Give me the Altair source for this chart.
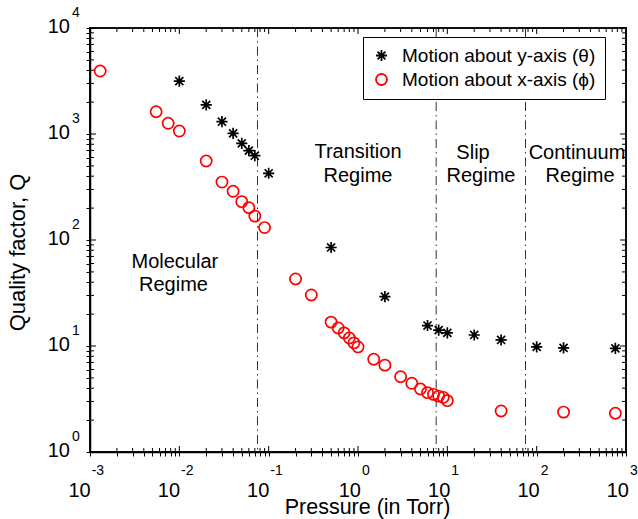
import altair as alt
import pandas as pd

# ---------------- data ----------------
theta_p = [0.01, 0.02, 0.03, 0.04, 0.05, 0.06, 0.07, 0.1, 0.5, 2, 6, 8, 10, 20, 40, 100, 200, 760]
theta_q = [3150, 1880, 1306, 1015, 817, 696, 624, 426, 85, 29.2, 15.6, 14.1, 13.3, 12.7, 11.4, 9.8, 9.6, 9.5]

phi_p = [0.0013, 0.0055, 0.0075, 0.01, 0.02, 0.03, 0.04, 0.05, 0.06, 0.07, 0.09, 0.2, 0.3,
         0.5, 0.6, 0.7, 0.8, 0.9, 1.0, 1.5, 2, 3, 4, 5, 6, 7, 8, 9, 10, 40, 200, 760]
phi_q = [3925, 1622, 1262, 1066, 556, 352, 288, 230, 202, 168, 131, 42.9, 30.3,
         16.8, 14.8, 13.3, 11.9, 10.7, 9.8, 7.5, 6.6, 5.13, 4.45, 3.93, 3.63, 3.50, 3.37, 3.28, 3.05, 2.44, 2.38, 2.32]

regime_bounds = [0.075, 7.5, 75]

x_exps = [-3, -2, -1, 0, 1, 2, 3]
y_exps = [0, 1, 2, 3, 4]

ann_text = ["Molecular", "Regime", "Transition", "Regime", "Slip", "Regime", "Continuum", "Regime"]
ann_x = [0.0089, 0.0086, 1.0, 1.0, 19.4, 23.8, 283, 306]
ann_y = [61.9, 37.6, 676, 402, 662, 402, 662, 402]

lab_theta = "Motion about y-axis (θ)"
lab_phi = "Motion about x-axis (ϕ)"

# ---------------- styling ----------------
FONT = "Liberation Sans"
W, H = 536, 424
xs = alt.Scale(type="log", domain=[1e-3, 1e3], nice=False)
ys = alt.Scale(type="log", domain=[1, 1e4], nice=False)
ASTER = "M-1,0L1,0M0,-1L0,1M-0.72,-0.72L0.72,0.72M-0.72,0.72L0.72,-0.72"

major_x = [10.0 ** e for e in x_exps]
minor_x = [m * 10.0 ** e for e in x_exps[:-1] for m in range(2, 10)]
major_y = [10.0 ** e for e in y_exps]
minor_y = [m * 10.0 ** e for e in y_exps[:-1] for m in range(2, 10)]

AX_X = alt.Axis(title="Pressure (in Torr)", labels=False, ticks=True, domain=True, grid=False,
                values=major_x + minor_x, tickSize=4, tickColor="black", tickWidth=1,
                domainColor="black", domainWidth=1.5,
                titleFont=FONT, titleFontSize=21.5, titleFontWeight="normal", titleColor="black",
                titlePadding=40, titleX=277)
AX_Y = alt.Axis(title="Quality factor, Q", labels=False, ticks=True, domain=True, grid=False,
                values=major_y + minor_y, tickSize=4, tickColor="black", tickWidth=1,
                domainColor="black", domainWidth=1.5,
                titleFont=FONT, titleFontSize=22, titleFontWeight="normal", titleColor="black",
                titlePadding=56, titleY=224)


def X(f):
    return alt.X(f, scale=xs, axis=AX_X)


def Y(f):
    return alt.Y(f, scale=ys, axis=AX_Y)


pts = pd.DataFrame({
    "p": theta_p + phi_p,
    "q": theta_q + phi_q,
    "s": [lab_theta] * len(theta_p) + [lab_phi] * len(phi_p),
})
dom = [lab_theta, lab_phi]

leg = alt.Legend(
    title=None, orient="none", legendX=273, legendY=9,
    strokeColor="black", fillColor="white", padding=9, cornerRadius=0,
    labelFont=FONT, labelFontSize=19, labelColor="black", labelOffset=11, labelLimit=400,
    rowPadding=4, symbolSize=120, symbolStrokeWidth=1.8,
)

points = alt.Chart(pts).mark_point(filled=False, size=125, strokeWidth=1.7, opacity=1).encode(
    x=X("p:Q"), y=Y("q:Q"),
    color=alt.Color("s:N", scale=alt.Scale(domain=dom, range=["black", "#ff0000"]), legend=leg),
    shape=alt.Shape("s:N", scale=alt.Scale(domain=dom, range=[ASTER, "circle"]), legend=leg),
)

# regime boundaries (dash-dot)
vlines = alt.Chart(pd.DataFrame({"v": regime_bounds})).mark_rule(
    color="#333333", strokeWidth=1, strokeDash=[9, 4, 1.5, 4]
).encode(x=X("v:Q"))

# plot frame along the domain ends (filled tick bars)
frame_x = alt.Chart(pd.DataFrame({"v": [1e-3, 1e3]})).mark_tick(
    orient="vertical", size=H + 1.5, thickness=1.5, color="black", opacity=1
).encode(x=X("v:Q"), y=alt.value(H / 2))
frame_y = alt.Chart(pd.DataFrame({"w": [1.0, 1e4]})).mark_tick(
    orient="horizontal", size=W + 1.5, thickness=1.5, color="black", opacity=1
).encode(y=Y("w:Q"), x=alt.value(W / 2))


def xtick_layers(vals, L):
    base = alt.Chart(pd.DataFrame({"tx": vals})).mark_tick(
        orient="vertical", size=L, thickness=1, color="black", opacity=1)
    return [
        base.encode(x=X("tx:Q"), y=alt.value(H - L / 2)),
        base.encode(x=X("tx:Q"), y=alt.value(L / 2)),
    ]


def ytick_layers(vals, L):
    base = alt.Chart(pd.DataFrame({"ty": vals})).mark_tick(
        orient="horizontal", size=L, thickness=1, color="black", opacity=1)
    return [
        base.encode(y=Y("ty:Q"), x=alt.value(L / 2)),
        base.encode(y=Y("ty:Q"), x=alt.value(W - L / 2)),
    ]


ticks = xtick_layers(major_x, 6) + xtick_layers(minor_x, 4) + ytick_layers(major_y, 6) + ytick_layers(minor_y, 4)

# tick labels: "10" with superscript exponent
xl = pd.DataFrame({"v": major_x, "e": [str(e) for e in x_exps], "b": [1.0] * len(x_exps),
                   "neg": [e < 0 for e in x_exps]})
yl = pd.DataFrame({"v": major_y, "e": [str(e) for e in y_exps], "b": [1e-3] * len(y_exps)})

tick_labels = []
for neg, R in [(True, 0.7), (False, 3.0)]:
    sub = xl[xl["neg"] == neg].reset_index(drop=True)
    tick_labels.append(alt.Chart(sub).mark_text(
        text="10", font=FONT, fontSize=20, align="right", baseline="middle", dx=R, dy=39, color="black"
    ).encode(x=X("v:Q"), y=Y("b:Q")))
    tick_labels.append(alt.Chart(sub).mark_text(
        font=FONT, fontSize=14, align="left", baseline="middle", dx=R + 1, dy=19, color="black"
    ).encode(x=X("v:Q"), y=Y("b:Q"), text="e:N"))

tick_labels.append(alt.Chart(yl).mark_text(
    text="10", font=FONT, fontSize=20, align="right", baseline="middle", dx=-20, dy=-1, color="black"
).encode(y=Y("v:Q"), x=X("b:Q")))
tick_labels.append(alt.Chart(yl).mark_text(
    font=FONT, fontSize=14, align="left", baseline="middle", dx=-18, dy=-15, color="black"
).encode(y=Y("v:Q"), x=X("b:Q"), text="e:N"))

# regime annotations
ann = alt.Chart(pd.DataFrame({"t": ann_text, "x": ann_x, "y": ann_y})).mark_text(
    font=FONT, fontSize=20, align="center", baseline="middle", color="black"
).encode(x=X("x:Q"), y=Y("y:Q"), text="t:N")

chart = alt.layer(vlines, ann, *tick_labels, points, *ticks, frame_x, frame_y).properties(
    width=W, height=H,
    autosize=alt.AutoSizeParams(type="none"),
    padding={"left": 90, "top": 28, "right": 12, "bottom": 67},
    background="white",
).configure_view(stroke="black", strokeWidth=1.5)

chart.save("out.html", embed_options={"renderer": "svg", "actions": False})
